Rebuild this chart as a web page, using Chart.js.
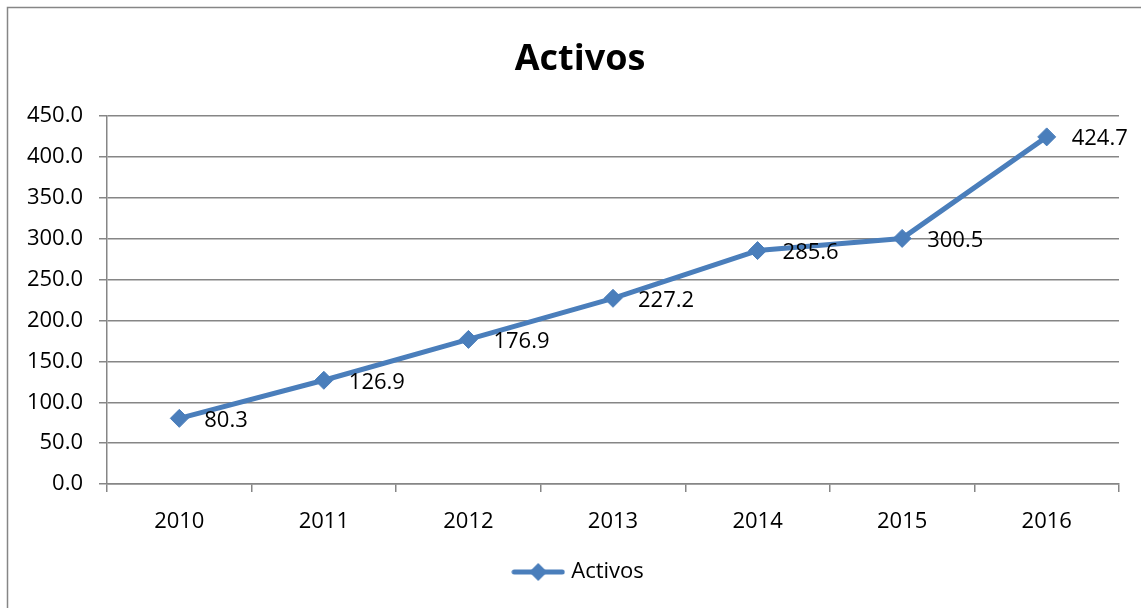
<!DOCTYPE html>
<html>
<head>
<meta charset="utf-8">
<script src="https://cdn.jsdelivr.net/npm/chart.js@4/dist/chart.umd.min.js"></script>
<style>
  html, body { margin: 0; padding: 0; background: #fff; }
  #wrap { width: 1141px; height: 608px; }
</style>
</head>
<body>
<div id="wrap"><canvas id="LineChart" width="1141" height="608"></canvas></div>
<script>
  const years = ['2010', '2011', '2012', '2013', '2014', '2015', '2016'];
  const activos = [80.3, 126.9, 176.9, 227.2, 285.6, 300.5, 424.7];
  const yTicks = { min: 0, max: 450, step: 50 };

  const blue = '#4A7EBB';
  const gray = '#868686';
  const font = "'Open Sans', 'Noto Sans', sans-serif";

  // legend symbol: line with a diamond in the middle
  function legendSymbol() {
    const c = document.createElement('canvas');
    c.width = 54; c.height = 20;
    const g = c.getContext('2d');
    g.strokeStyle = blue; g.lineWidth = 5; g.lineCap = 'round';
    g.beginPath(); g.moveTo(3, 10); g.lineTo(51, 10); g.stroke();
    g.fillStyle = blue;
    g.beginPath(); g.moveTo(27, 1); g.lineTo(36, 10); g.lineTo(27, 19); g.lineTo(18, 10); g.closePath(); g.fill();
    return c;
  }

  const frame = {
    id: 'frame',
    beforeDraw(chart) {
      const ctx = chart.ctx;
      ctx.save();
      ctx.strokeStyle = gray;
      ctx.lineWidth = 1.5;
      ctx.strokeRect(7.5, 7.5, 1200, 700);
      ctx.restore();
    }
  };

  const valueLabels = {
    id: 'valueLabels',
    afterDatasetsDraw(chart) {
      const ctx = chart.ctx;
      const meta = chart.getDatasetMeta(0);
      ctx.save();
      ctx.font = '22px ' + font;
      ctx.fillStyle = '#000';
      ctx.textAlign = 'left';
      ctx.textBaseline = 'middle';
      meta.data.forEach((pt, i) => {
        ctx.fillText(activos[i].toFixed(1), pt.x + 25, pt.y + 2);
      });
      ctx.restore();
    }
  };

  const ctx = document.getElementById('LineChart').getContext('2d');
  new Chart(ctx, {
    type: 'line',
    data: {
      labels: years,
      datasets: [{
        label: 'Activos',
        data: activos,
        yAxisID: 'y',
        borderColor: blue,
        backgroundColor: blue,
        borderWidth: 5,
        borderJoinStyle: 'round',
        pointStyle: 'rectRot',
        pointRadius: 9,
        pointBorderWidth: 1,
        pointBackgroundColor: blue,
        pointBorderColor: blue,
        tension: 0
      }]
    },
    options: {
      responsive: false,
      animation: false,
      layout: { padding: { left: 19, right: 0, top: 0, bottom: 15 } },
      plugins: {
        title: {
          display: true,
          text: 'Activos',
          color: '#000',
          font: { family: font, size: 36, weight: 'bold' },
          padding: { top: 38, bottom: 35 }
        },
        legend: {
          position: 'bottom',
          labels: {
            color: '#000',
            font: { family: font, size: 22 },
            usePointStyle: true,
            pointStyle: legendSymbol(),
            pointStyleWidth: 44,
            padding: 10
          }
        },
        tooltip: { enabled: false }
      },
      scales: {
        x: {
          offset: true,
          afterFit: s => { s.height = 67; },
          grid: { drawOnChartArea: false, offset: true, tickLength: 8, color: gray, lineWidth: 1.5 },
          border: { color: gray, width: 1.5 },
          ticks: { color: '#000', font: { family: font, size: 22 }, padding: 17 }
        },
        y: {
          min: yTicks.min,
          max: yTicks.max,
          afterFit: s => { s.width = 88; },
          grid: { color: gray, lineWidth: 1.5, tickLength: 8 },
          border: { color: gray, width: 1.5 },
          ticks: {
            stepSize: yTicks.step,
            color: '#000',
            font: { family: font, size: 22 },
            padding: 16,
            callback: v => v.toFixed(1)
          }
        },
        // empty right-hand space, the chart frame continues past the window
        spacer: {
          type: 'linear',
          position: 'right',
          afterFit: s => { s.width = 22; },
          grid: { display: false },
          border: { display: false },
          ticks: { display: false }
        }
      }
    },
    plugins: [frame, valueLabels]
  });
</script>
</body>
</html>
